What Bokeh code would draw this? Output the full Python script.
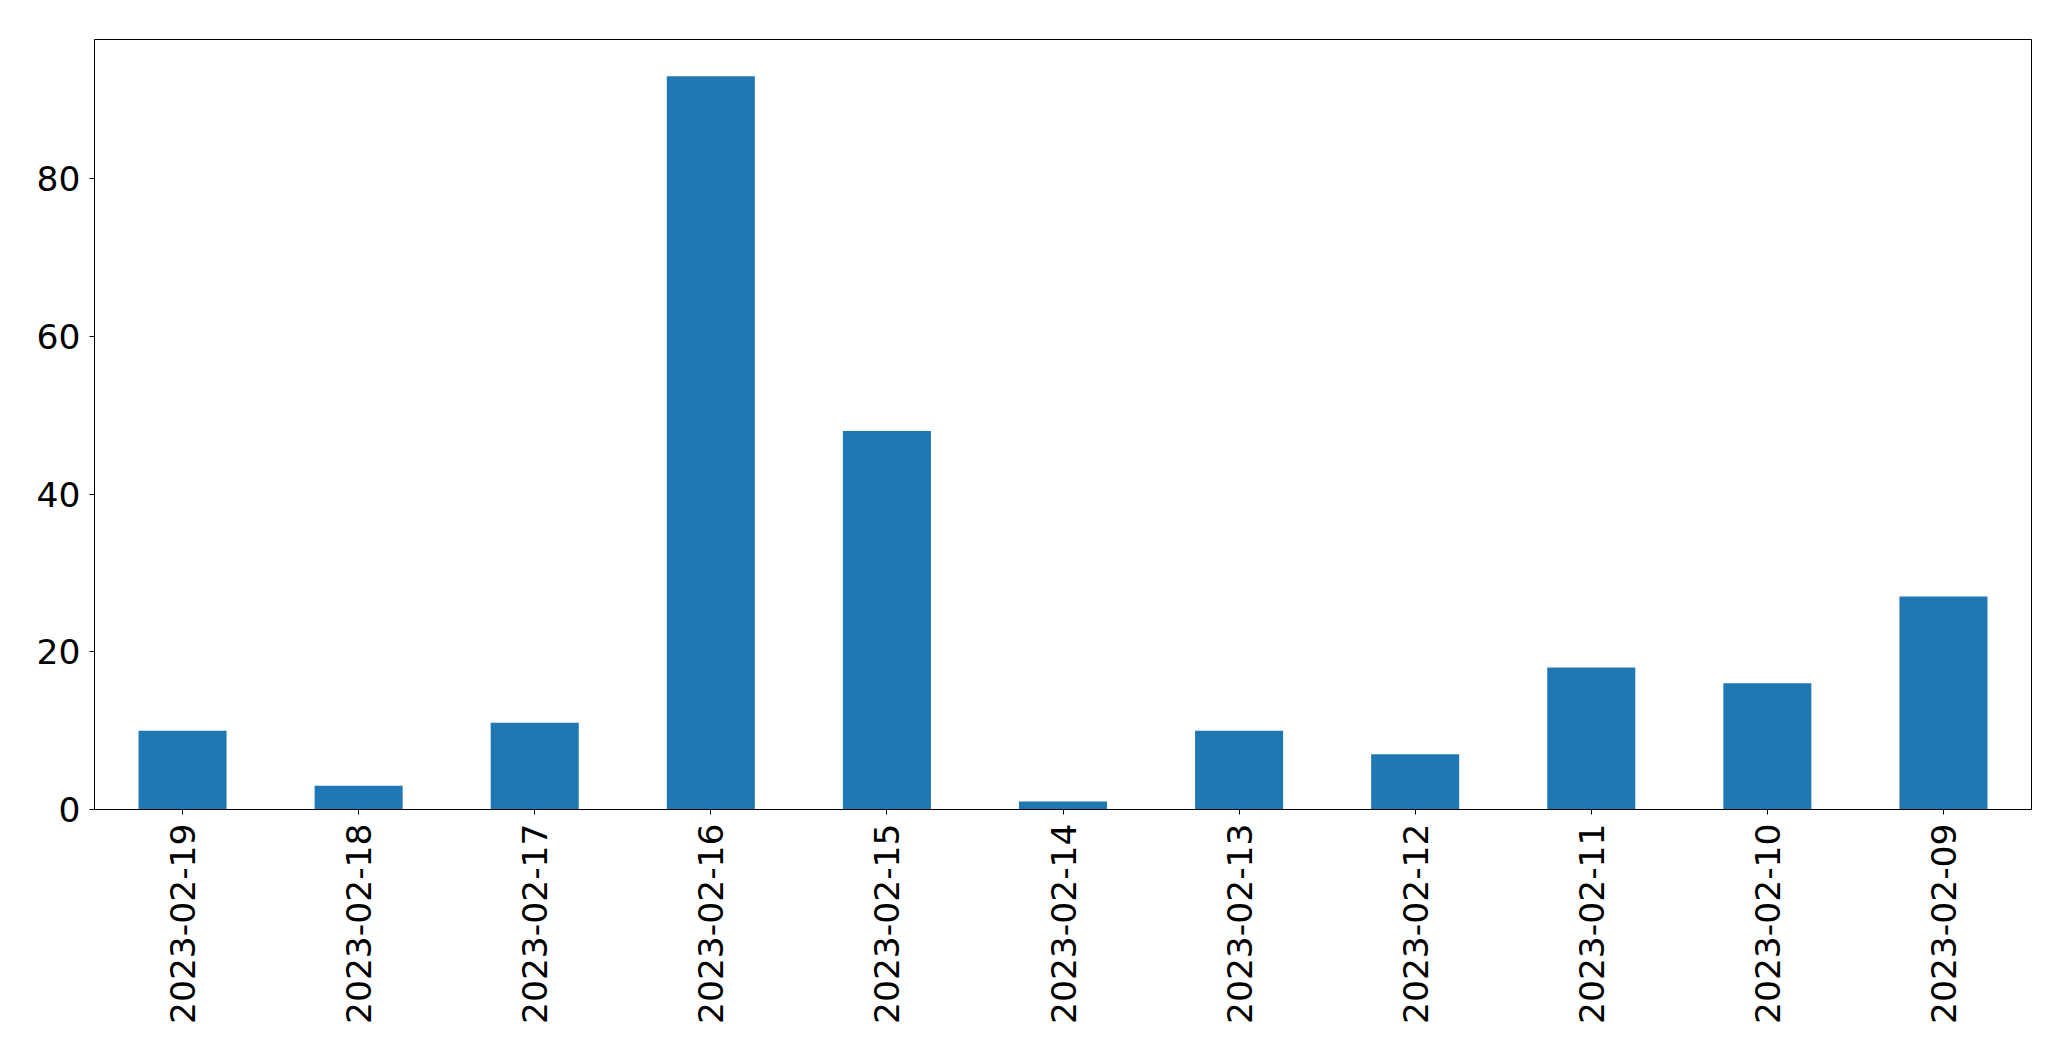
import math
from bokeh.plotting import figure
from bokeh.models import Range1d, FactorRange, FixedTicker, ColumnDataSource
from bokeh.embed import file_html
from bokeh.resources import INLINE

dates = ["2023-02-19", "2023-02-18", "2023-02-17", "2023-02-16", "2023-02-15",
         "2023-02-14", "2023-02-13", "2023-02-12", "2023-02-11", "2023-02-10", "2023-02-09"]
counts = [10, 3, 11, 93, 48, 1, 10, 7, 18, 16, 27]
y_ticks = [0, 20, 40, 60, 80]

src = ColumnDataSource(dict(x=dates, top=counts))

p = figure(
    x_range=FactorRange(*dates, range_padding=0),
    y_range=Range1d(0, max(counts) * 1.05),
    output_backend="svg", toolbar_location=None,
    frame_width=1937, frame_height=770,
    min_border_left=94, min_border_top=39, min_border_right=20, min_border_bottom=200,
)
p.vbar(x="x", top="top", width=0.5, source=src, fill_color="#1f77b4", line_color=None)

p.xgrid.visible = False
p.ygrid.visible = False
p.outline_line_color = "black"
p.outline_line_width = 1
p.outline_line_alpha = 1

for ax in (p.xaxis, p.yaxis):
    ax.axis_line_color = "black"
    ax.major_tick_line_color = "black"
    ax.major_tick_out = 5
    ax.major_tick_in = 0
    ax.minor_tick_line_color = None
    ax.major_label_text_font = "DejaVu Sans"
    ax.major_label_text_font_size = "34.5px"
    ax.major_label_text_color = "black"
    ax.major_label_standoff = 9

p.yaxis.ticker = FixedTicker(ticks=y_ticks)
p.xaxis.major_label_orientation = math.pi / 2
p.xaxis.group_text_font_size = "0px"

open("out.html", "w").write(file_html(p, INLINE))
